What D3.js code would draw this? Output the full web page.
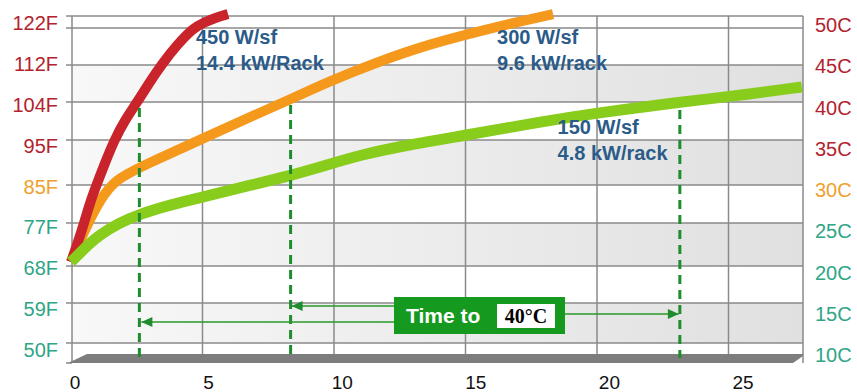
<!DOCTYPE html>
<html><head><meta charset="utf-8">
<script src="https://cdn.jsdelivr.net/npm/d3@7"></script>
<style>body{margin:0;background:#fff}svg{display:block}</style>
</head><body><svg id="c" width="857" height="392"></svg>
<script>
// ---- data ----
const timeTicks = [0, 5, 10, 15, 20, 25];
const tempC = [50, 45, 40, 35, 30, 25, 20, 15, 10];
const leftLabels = ["122F", "112F", "104F", "95F", "85F", "77F", "68F", "59F", "50F"];
const rightLabels = ["50C", "45C", "40C", "35C", "30C", "25C", "20C", "15C", "10C"];
const labelGroup = ["hot", "hot", "hot", "hot", "warm", "cool", "cool", "cool", "cool"];
// [time, °C]
const series450 = [[0, 20.47], [0.27, 22.79], [0.53, 25.39], [0.72, 27.63], [0.97, 30], [1.29, 32.44], [1.65, 35], [2.05, 37.63], [2.52, 40], [2.97, 42.57], [3.46, 45.14], [4.03, 47.7], [4.64, 50], [5.1, 50.81], [5.51, 51.42], [5.97, 51.89]];
const series300 = [[0, 20.47], [0.61, 24.77], [1.1, 28.03], [1.67, 30.56], [2.62, 32.0], [4.9, 35], [6.81, 38.03], [8.37, 40.41], [9.85, 42.84], [11.75, 45.54], [13.65, 47.84], [15.55, 49.59], [16.81, 50.68], [18.33, 51.89]];
const series150 = [[0, 20.47], [0.34, 21.51], [0.72, 22.67], [1.1, 23.6], [1.75, 24.88], [2.62, 26.18], [3.76, 27.37], [5.02, 28.42], [6.54, 29.74], [8.44, 31.11], [9.73, 32.22], [10.99, 33.33], [12.78, 34.44], [15.06, 35.66], [17.83, 37.37], [20.0, 38.55], [23.16, 40], [24.94, 40.68], [27.79, 42.03]];
const timeTo40 = [2.6, 8.35, 23.15];
const seriesLabels = [
  { lines: ["450 W/sf", "14.4 kW/Rack"], t: 4.75, c: 47.9 },
  { lines: ["300 W/sf", "9.6 kW/rack"], t: 16.2, c: 47.9 },
  { lines: ["150 W/sf", "4.8 kW/rack"], t: 18.5, c: 35.8 }
];

(function () {
const svg = d3.select("#c");
const x = d3.scaleLinear().domain([0, 25]).range([71, 728.5]);
const xLab = d3.scaleLinear().domain([0, 25]).range([75, 743]);
const y = d3.scaleLinear().domain(tempC).range([28, 65, 102, 140, 185, 223, 266, 303, 343]);
const yLabL = d3.scaleLinear().domain([50, 10]).range([23, 350]);
const yLabR = d3.scaleLinear().domain([50, 10]).range([25, 355]);
const colors = { hot: "#b3222d", warm: "#f0a02c", cool: "#2ea585" };

const pLeft = 72, pRight = 803, pTop = 16, floorTop = 354, floorBot = 363;

const defs = svg.append("defs");
const g = defs.append("linearGradient").attr("id", "band").attr("x1", "0").attr("x2", "1");
g.append("stop").attr("offset", "0").attr("stop-color", "#f8f8f8");
g.append("stop").attr("offset", "0.5").attr("stop-color", "#ececec");
g.append("stop").attr("offset", "1").attr("stop-color", "#e0e0e0");

const bandPairs = [[45, 40], [35, 30], [25, 20], [15, 10]];
svg.selectAll("rect.band").data(bandPairs).join("rect")
  .attr("x", pLeft).attr("width", pRight - pLeft)
  .attr("y", d => y(d[0])).attr("height", d => y(d[1]) - y(d[0]))
  .attr("fill", "url(#band)");

const gridCol = "#8a8a8a";
svg.selectAll("line.h").data(tempC).join("line")
  .attr("x1", 66).attr("x2", pRight).attr("y1", d => y(d)).attr("y2", d => y(d))
  .attr("stroke", gridCol).attr("stroke-width", 1.5);
svg.append("line").attr("x1", 66).attr("x2", pRight).attr("y1", pTop).attr("y2", pTop)
  .attr("stroke", gridCol).attr("stroke-width", 1.5);
svg.selectAll("line.v").data(timeTicks.slice(1)).join("line")
  .attr("x1", d => x(d)).attr("x2", d => x(d)).attr("y1", pTop).attr("y2", floorTop)
  .attr("stroke", gridCol).attr("stroke-width", 1.5);
svg.append("line").attr("x1", pLeft).attr("x2", pLeft).attr("y1", pTop).attr("y2", floorBot)
  .attr("stroke", gridCol).attr("stroke-width", 1.5);
svg.append("line").attr("x1", pRight).attr("x2", pRight).attr("y1", pTop).attr("y2", floorBot)
  .attr("stroke", gridCol).attr("stroke-width", 1.5);
svg.append("line").attr("x1", 66).attr("x2", pLeft).attr("y1", floorBot).attr("y2", floorBot)
  .attr("stroke", gridCol).attr("stroke-width", 1.5);
svg.append("polygon")
  .attr("points", `68,${floorBot} 87,${floorTop} ${pRight},${floorTop} ${pRight},${floorTop + 2} 793,${floorBot}`)
  .attr("fill", "#7d7d7d");

const line = d3.line().x(d => x(d[0])).y(d => y(d[1])).curve(d3.curveBasis);
const curves = [
  { data: series300, color: "#f5991d", w: 10 },
  { data: series450, color: "#c9242b", w: 10 },
  { data: series150, color: "#88cc1c", w: 11 }
];
svg.selectAll("path.curve").data(curves).join("path")
  .attr("d", d => line(d.data)).attr("fill", "none")
  .attr("stroke", d => d.color).attr("stroke-width", d => d.w)
  .attr("stroke-linejoin", "round").attr("stroke-linecap", "butt");

svg.selectAll("line.dash").data(timeTo40).join("line")
  .attr("x1", d => x(d)).attr("x2", d => x(d))
  .attr("y1", (d, i) => y(40) + [6, 3, 8][i]).attr("y2", 358)
  .attr("stroke", "#1f8c2e").attr("stroke-width", 3).attr("stroke-dasharray", "9,6");

const arrowCol = "#2a9a2a";
const arrows = [
  { from: 394, to: x(timeTo40[1]) + 1, yy: 306 },
  { from: 394, to: x(timeTo40[0]) + 2, yy: 322 },
  { from: 565, to: x(timeTo40[2]) - 1, yy: 314 }
];
arrows.forEach(a => {
  svg.append("line").attr("x1", a.from).attr("x2", a.to).attr("y1", a.yy).attr("y2", a.yy)
    .attr("stroke", arrowCol).attr("stroke-width", 1.5);
  const dir = a.to < a.from ? 1 : -1;
  svg.append("polygon")
    .attr("points", `${a.to},${a.yy} ${a.to + dir * 11},${a.yy - 5} ${a.to + dir * 11},${a.yy + 5}`)
    .attr("fill", "#1f8c2e");
});

svg.append("rect").attr("x", 394).attr("y", 297).attr("width", 171).attr("height", 37).attr("fill", "#16991f");
svg.append("text").attr("x", 406).attr("y", 323).text("Time to")
  .attr("fill", "#fff").attr("font-family", "Liberation Sans, Arial, sans-serif")
  .attr("font-weight", "bold").attr("font-size", 21);
svg.append("rect").attr("x", 497).attr("y", 304).attr("width", 58).attr("height", 24).attr("fill", "#fff");
svg.append("text").attr("x", 526).attr("y", 323).attr("text-anchor", "middle").text("40°C")
  .attr("fill", "#000").attr("font-family", "Liberation Serif, Times New Roman, serif")
  .attr("font-weight", "bold").attr("font-size", 20);

seriesLabels.forEach(s => {
  s.lines.forEach((t, i) => {
    svg.append("text").attr("x", x(s.t)).attr("y", y(s.c) + i * 26).text(t)
      .attr("fill", "#2b5b88").attr("font-family", "Liberation Sans, Arial, sans-serif")
      .attr("font-weight", "bold").attr("font-size", 20);
  });
});

const font = "Liberation Sans, Arial, sans-serif";
svg.selectAll("text.yl").data(tempC).join("text")
  .attr("x", 58).attr("y", d => yLabL(d)).attr("dy", "0.35em").attr("text-anchor", "end")
  .attr("font-family", font).attr("font-size", 20)
  .attr("fill", (d, i) => colors[labelGroup[i]]).text((d, i) => leftLabels[i]);
svg.selectAll("text.yr").data(tempC).join("text")
  .attr("x", 815).attr("y", d => yLabR(d)).attr("dy", "0.35em").attr("text-anchor", "start")
  .attr("font-family", font).attr("font-size", 20)
  .attr("fill", (d, i) => colors[labelGroup[i]]).text((d, i) => rightLabels[i]);
svg.selectAll("text.xl").data(timeTicks).join("text")
  .attr("x", d => xLab(d)).attr("y", 389).attr("text-anchor", "middle")
  .attr("font-family", font).attr("font-size", 19).attr("fill", "#111").text(d => d);
})();
</script></body></html>
